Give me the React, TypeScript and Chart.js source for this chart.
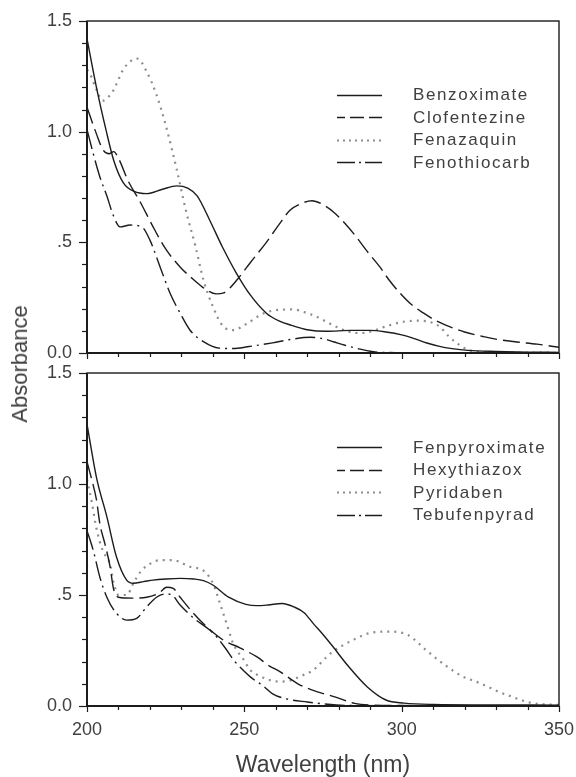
import React, { useEffect, useRef } from 'react';
import { Chart, registerables } from 'chart.js';

Chart.register(...registerables);

// ---------- Data (wavelength in nm, absorbance) ----------
// Top panel
const benzoximateNm = [200, 203, 206, 208.5, 211.5, 215, 219, 224, 228.5, 232, 235, 239, 243, 247.5, 252, 257, 261, 265, 270, 276, 284, 290, 295, 300, 304, 308, 312, 316, 321, 330, 340, 350];
const benzoximateAbs = [1.42, 1.2, 1.01, 0.87, 0.77, 0.73, 0.72, 0.74, 0.755, 0.745, 0.71, 0.6, 0.48, 0.36, 0.26, 0.18, 0.145, 0.125, 0.105, 0.098, 0.102, 0.102, 0.095, 0.082, 0.065, 0.045, 0.03, 0.02, 0.012, 0.007, 0.004, 0.003];

const clofentezineNm = [200, 203, 205, 207, 208.5, 210, 213, 217, 221, 225, 229.5, 234, 238, 241, 243.5, 245.5, 248.5, 252, 257, 261, 264.5, 268, 271.5, 275, 278.5, 282, 285.5, 289, 293, 296, 299.5, 303, 307, 311, 315, 320, 326, 331, 336.5, 343, 350];
const clofentezineAbs = [1.11, 0.99, 0.92, 0.9, 0.91, 0.88, 0.78, 0.68, 0.57, 0.47, 0.39, 0.33, 0.285, 0.267, 0.272, 0.295, 0.345, 0.41, 0.5, 0.58, 0.645, 0.675, 0.688, 0.67, 0.635, 0.585, 0.526, 0.46, 0.39, 0.33, 0.27, 0.22, 0.18, 0.145, 0.12, 0.095, 0.074, 0.06, 0.05, 0.04, 0.026];

const fenazaquinNm = [200, 201, 203, 205, 207, 208.5, 211.5, 214, 216, 219, 222, 225, 228.5, 231.5, 234.5, 237, 240, 243, 246.5, 250.5, 256, 261, 265.5, 270, 273, 278, 283, 287, 291, 295, 300, 306, 309, 312, 315, 318, 321, 326, 335, 350];
const fenazaquinAbs = [1.28, 1.26, 1.19, 1.14, 1.16, 1.19, 1.28, 1.32, 1.33, 1.27, 1.17, 1.03, 0.83, 0.64, 0.48, 0.33, 0.21, 0.125, 0.103, 0.13, 0.178, 0.195, 0.197, 0.18, 0.164, 0.127, 0.097, 0.09, 0.1, 0.12, 0.14, 0.146, 0.14, 0.12, 0.075, 0.04, 0.015, 0.004, 0.002, 0.001];

const fenothiocarbNm = [200, 202, 204, 206.3, 208.4, 210.5, 213.7, 217.4, 220, 223.2, 226.4, 229.6, 232.7, 237, 242, 246.5, 251, 259, 265, 271, 275, 278.3, 282, 285.7, 291, 296, 300, 350];
const fenothiocarbAbs = [1.01, 0.9, 0.8, 0.71, 0.62, 0.57, 0.578, 0.57, 0.51, 0.39, 0.27, 0.18, 0.104, 0.051, 0.022, 0.02, 0.028, 0.046, 0.062, 0.071, 0.065, 0.051, 0.035, 0.021, 0.006, 0.002, 0.001, 0.001];

// Bottom panel
const fenpyroximateNm = [200, 203, 206.3, 209.4, 212.6, 214.7, 218, 221, 225, 229.6, 234, 237, 240, 245, 250.5, 254, 257.5, 262, 266, 269, 272, 275, 278, 283, 289, 295, 300.8, 310, 330, 350];
const fenpyroximateAbs = [1.27, 1.03, 0.853, 0.67, 0.567, 0.553, 0.56, 0.567, 0.572, 0.575, 0.572, 0.565, 0.545, 0.49, 0.458, 0.452, 0.455, 0.462, 0.445, 0.42, 0.37, 0.322, 0.27, 0.18, 0.087, 0.027, 0.013, 0.007, 0.005, 0.004];

const hexythiazoxNm = [200, 201.5, 203, 204.1, 205.7, 207.3, 208.4, 210, 214.6, 219, 223, 225.3, 227.4, 229.6, 233.8, 238, 243.3, 248.6, 253.9, 258, 261.3, 267, 273, 279, 285, 290, 300, 350];
const hexythiazoxAbs = [1.1, 1.02, 0.93, 0.82, 0.73, 0.63, 0.53, 0.49, 0.486, 0.49, 0.51, 0.535, 0.53, 0.49, 0.418, 0.357, 0.297, 0.262, 0.222, 0.18, 0.155, 0.1, 0.065, 0.04, 0.012, 0.004, 0.002, 0.001];

const pyridabenNm = [200, 201.5, 203, 205, 207.3, 208.4, 210, 212.6, 215, 217, 220, 223.2, 227.4, 230, 232.7, 237, 240.1, 242.3, 244.4, 246.5, 249.7, 252, 255, 258, 261.3, 264.6, 268, 271.7, 277.5, 284.5, 290.3, 296.2, 302, 307.9, 313.7, 319.5, 323.6, 327.7, 331, 334, 337.3, 340.5, 345, 350];
const pyridabenAbs = [1.02, 0.92, 0.8, 0.7, 0.64, 0.56, 0.5, 0.5, 0.56, 0.605, 0.64, 0.657, 0.657, 0.645, 0.627, 0.61, 0.55, 0.46, 0.37, 0.28, 0.21, 0.16, 0.135, 0.117, 0.11, 0.115, 0.135, 0.16, 0.238, 0.297, 0.33, 0.335, 0.32, 0.25, 0.185, 0.132, 0.11, 0.085, 0.063, 0.047, 0.03, 0.016, 0.008, 0.005];

const tebufenpyradNm = [200, 202, 204.1, 206.3, 209.4, 212.6, 215.8, 219, 222.1, 225, 227, 229.6, 234, 239, 241.3, 244, 247, 249, 252, 256, 259, 264, 270, 275, 282, 300, 350];
const tebufenpyradAbs = [0.79, 0.7, 0.58, 0.49, 0.417, 0.387, 0.395, 0.447, 0.49, 0.505, 0.5, 0.455, 0.395, 0.342, 0.31, 0.26, 0.2, 0.17, 0.13, 0.09, 0.055, 0.03, 0.018, 0.01, 0.003, 0.001, 0.001];

const topLabels = ['Benzoximate', 'Clofentezine', 'Fenazaquin', 'Fenothiocarb'];
const bottomLabels = ['Fenpyroximate', 'Hexythiazox', 'Pyridaben', 'Tebufenpyrad'];

const yTickValues = [0, 0.5, 1.0, 1.5];
const yTickLabels = ['0.0', '.5', '1.0', '1.5'];
const xTickValues = [200, 250, 300, 350];
const xTickLabels = ['200', '250', '300', '350'];

// ---------- Styles ----------
const INK = '#1c1c1c';
const DOT = '#8c8c8c';
const TEXT = '#404040';
const FONT = "'Liberation Sans', Arial, Helvetica, sans-serif";

const lineStyles = [
  { borderColor: INK, borderWidth: 1.4, borderDash: [] as number[] },
  { borderColor: INK, borderWidth: 1.4, borderDash: [17, 6] },
  { borderColor: DOT, borderWidth: 2.2, borderDash: [2, 5] },
  { borderColor: INK, borderWidth: 1.4, borderDash: [20, 5, 2, 5] },
];

function pts(nm: number[], ab: number[]) {
  return nm.map((x, i) => ({ x, y: ab[i] }));
}

function makeDatasets(labels: string[], series: [number[], number[]][]) {
  return series.map(([nm, ab], i) => ({
    label: labels[i],
    data: pts(nm, ab),
    ...lineStyles[i],
    pointRadius: 0,
    fill: false,
    cubicInterpolationMode: 'monotone' as const,
    borderCapStyle: 'butt' as const,
  }));
}

const frameTicksPlugin = {
  id: 'frameTicks',
  afterDraw(chart: any, _args: any, opts: any) {
    const { ctx, chartArea: a, scales } = chart;
    const x = scales.x;
    const y = scales.y;
    ctx.save();
    ctx.setLineDash([]);
    ctx.strokeStyle = INK;
    // y ticks (outside, left)
    ctx.lineWidth = 1.2;
    for (let k = 0; k <= 15; k++) {
      const py = Math.round(y.getPixelForValue(k / 10)) + 0.5;
      const len = k % 5 === 0 ? 8 : 5;
      ctx.beginPath();
      ctx.moveTo(a.left - len, py);
      ctx.lineTo(a.left, py);
      ctx.stroke();
    }
    // x ticks (below axis)
    for (let n = 200; n <= 350; n += 10) {
      const px = Math.round(x.getPixelForValue(n)) + 0.5;
      const len = n % 50 === 0 ? 6 : 4;
      ctx.beginPath();
      ctx.moveTo(px, a.bottom);
      ctx.lineTo(px, a.bottom + len);
      ctx.stroke();
    }
    // frame
    ctx.lineWidth = 1.4;
    ctx.strokeRect(a.left, a.top, a.right - a.left, a.bottom - a.top);
    ctx.lineWidth = 2;
    ctx.beginPath();
    ctx.moveTo(a.left, a.top);
    ctx.lineTo(a.left, a.bottom);
    ctx.lineTo(a.right, a.bottom);
    ctx.stroke();

    // legend
    const ds = chart.data.datasets;
    ctx.font = `17px ${FONT}`;
    ctx.textBaseline = 'middle';
    ctx.textAlign = 'left';
    try { (ctx as any).letterSpacing = '1.6px'; } catch (e) {}
    ds.forEach((d: any, i: number) => {
      const ly = opts.legendY + i * opts.legendStep;
      ctx.save();
      ctx.strokeStyle = d.borderColor;
      ctx.lineWidth = d.borderWidth;
      ctx.setLineDash(opts.legendDash[i]);
      ctx.beginPath();
      ctx.moveTo(opts.lineX0, Math.round(ly) + 0.5);
      ctx.lineTo(opts.lineX1, Math.round(ly) + 0.5);
      ctx.stroke();
      ctx.restore();
      ctx.fillStyle = TEXT;
      ctx.fillText(d.label, opts.textX, ly + 1);
    });
    ctx.restore();
  },
};

interface PanelProps {
  datasets: any[];
  height: number;
  top: number;
  padTop: number;
  xHeight: number;
  showX: boolean;
  legendY: number;
}

function Panel({ datasets, height, top, padTop, xHeight, showX, legendY }: PanelProps) {
  const ref = useRef<HTMLCanvasElement>(null);
  useEffect(() => {
    if (!ref.current) return;
    const hiddenTicks = { display: true, drawOnChartArea: false, drawTicks: true, tickColor: 'rgba(0,0,0,0)' };
    const chart = new Chart(ref.current, {
      type: 'line',
      data: { datasets },
      options: {
        animation: false,
        responsive: false,
        devicePixelRatio: 1,
        layout: { padding: { top: padTop, right: 17, left: 0, bottom: 0 } },
        plugins: {
          legend: { display: false },
          tooltip: { enabled: false },
          frameTicks: {
            legendY,
            legendStep: 22.5,
            lineX0: 337,
            lineX1: 382,
            textX: 413,
            legendDash: [[], [8, 5, 14, 5, 14, 5], [2, 4], [18, 4, 2, 4, 18]],
          },
        } as any,
        scales: {
          x: {
            type: 'linear',
            min: 200,
            max: 350,
            grid: { ...hiddenTicks, tickLength: 15 },
            border: { display: false },
            afterFit: (s: any) => { s.height = xHeight; },
            afterBuildTicks: (s: any) => { s.ticks = xTickValues.map((v) => ({ value: v })); },
            ticks: {
              display: showX,
              padding: 0,
              color: TEXT,
              font: { family: FONT, size: 18, lineHeight: 1 },
              maxRotation: 0,
              callback: (v: any) => xTickLabels[xTickValues.indexOf(Number(v))] ?? '',
            },
            title: {
              display: showX,
              text: 'Wavelength (nm)',
              color: TEXT,
              font: { family: FONT, size: 23, lineHeight: 1 },
              padding: { top: 0, bottom: 0 },
            },
          },
          y: {
            type: 'linear',
            min: 0,
            max: 1.5,
            grid: { ...hiddenTicks, tickLength: 15 },
            border: { display: false },
            afterFit: (s: any) => { s.width = 87; },
            afterBuildTicks: (s: any) => { s.ticks = yTickValues.map((v) => ({ value: v })); },
            ticks: {
              padding: 0,
              color: TEXT,
              font: { family: FONT, size: 18, lineHeight: 1 },
              callback: (v: any) => yTickLabels[yTickValues.indexOf(Number(v))] ?? '',
            },
          },
        },
      },
      plugins: [frameTicksPlugin],
    });
    return () => chart.destroy();
  }, []);
  return (
    <canvas
      ref={ref}
      width={576}
      height={height}
      style={{ position: 'absolute', left: 0, top, width: 576, height }}
    />
  );
}

export default function App() {
  const topSets = makeDatasets(topLabels, [
    [benzoximateNm, benzoximateAbs],
    [clofentezineNm, clofentezineAbs],
    [fenazaquinNm, fenazaquinAbs],
    [fenothiocarbNm, fenothiocarbAbs],
  ]);
  const bottomSets = makeDatasets(bottomLabels, [
    [fenpyroximateNm, fenpyroximateAbs],
    [hexythiazoxNm, hexythiazoxAbs],
    [pyridabenNm, pyridabenAbs],
    [tebufenpyradNm, tebufenpyradAbs],
  ]);
  return (
    <div style={{ position: 'absolute', left: 0, top: 0, width: 576, height: 777, background: '#fff', overflow: 'hidden' }}>
      <Panel datasets={topSets} height={363} top={0} padTop={21} xHeight={10} showX={false} legendY={94.5} />
      <Panel datasets={bottomSets} height={414} top={363} padTop={10} xHeight={71} showX={true} legendY={84} />
      <div
        style={{
          position: 'absolute',
          left: 20,
          top: 364,
          transform: 'translate(-50%, -50%) rotate(-90deg)',
          whiteSpace: 'nowrap',
          fontFamily: FONT,
          fontSize: 22,
          color: TEXT,
          lineHeight: 1,
        }}
      >
        Absorbance
      </div>
    </div>
  );
}
